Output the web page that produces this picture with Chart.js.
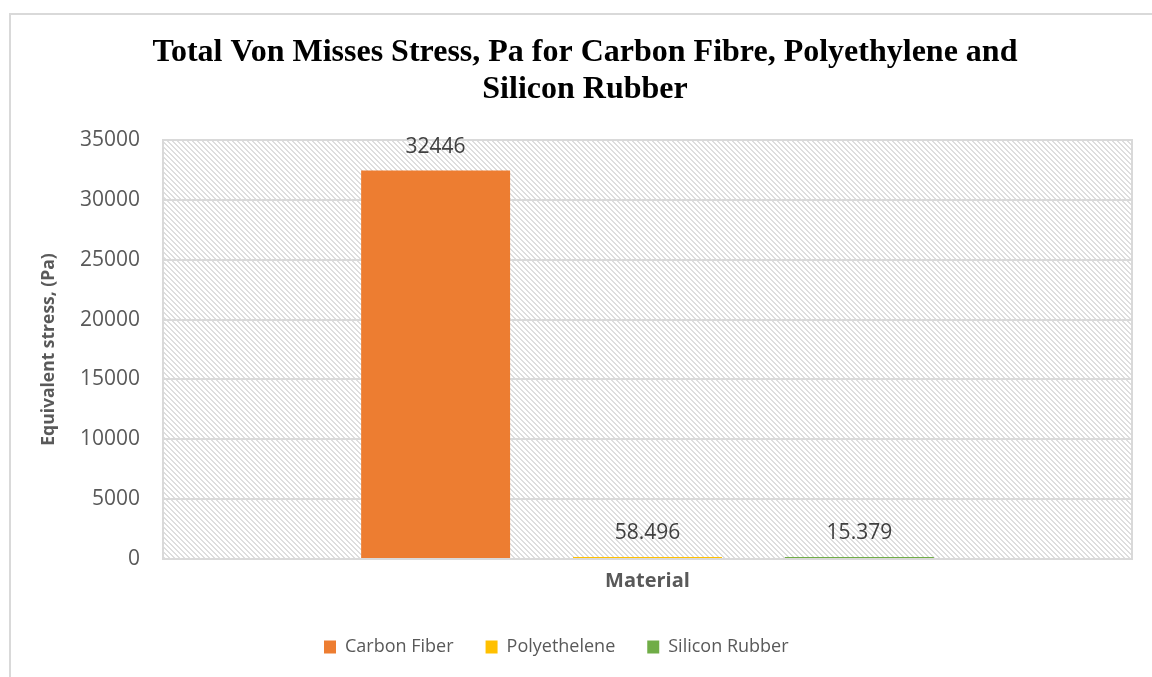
<!DOCTYPE html>
<html>
<head>
<meta charset="utf-8">
<script src="https://cdn.jsdelivr.net/npm/chart.js@4.4.1/dist/chart.umd.min.js"></script>
<style>
  html, body { margin: 0; padding: 0; background: #fff; overflow: hidden; }
  #frame {
    position: absolute; left: 9px; top: 13px;
    width: 1148px; height: 696px;
    border: 2px solid #d9d9d9;
  }
  #frame canvas { display: block; }
</style>
</head>
<body>
<div id="frame"><canvas id="chart" width="1148" height="696"></canvas></div>
<script>
// data
const categories = [''];
const seriesNames = ['Carbon Fiber', 'Polyethelene', 'Silicon Rubber'];
const seriesValues = [32446, 58.496, 15.379];
const seriesColors = ['#ED7D31', '#FFC000', '#70AD47'];
const yMin = 0, yMax = 35000, yStep = 5000;
const titleLines = ['Total Von Misses Stress, Pa for Carbon Fibre, Polyethylene and', 'Silicon Rubber'];
const yTitle = 'Equivalent stress, (Pa)';
const xTitle = 'Material';

const SANS = "'Open Sans', 'Noto Sans', sans-serif";
const GREY = '#d9d9d9';

// diagonal hatch for the plot area
function makeHatch() {
    const n = 5;
    const c = document.createElement('canvas');
    c.width = n; c.height = n;
    const g = c.getContext('2d');
    g.fillStyle = '#ffffff';
    g.fillRect(0, 0, n, n);
    g.fillStyle = '#dedede';
    for (let y = 0; y < n; y++) {
        for (let x = 0; x < n; x++) {
            const d = ((x - y) % n + n) % n;
            if (d === 0 || d === 1) g.fillRect(x, y, 1, 1);
        }
    }
    return g.createPattern(c, 'repeat');
}

const plotBackground = {
    id: 'plotBackground',
    beforeDraw(chart) {
        const {ctx, chartArea: a} = chart;
        ctx.save();
        ctx.fillStyle = '#ffffff';
        ctx.fillRect(0, 0, chart.width, chart.height);
        ctx.fillStyle = makeHatch();
        ctx.fillRect(a.left, a.top, a.right - a.left, a.bottom - a.top);
        ctx.restore();
    },
    afterLayout(chart) {
        // legend sits left of centre in the reference
        const lg = chart.legend;
        if (lg) lg.left = 313 - lg.options.labels.padding;
    }
};

const valueLabels = {
    id: 'valueLabels',
    afterDatasetsDraw(chart) {
        const {ctx} = chart;
        ctx.save();
        ctx.font = "21px " + SANS;
        ctx.fillStyle = '#404040';
        ctx.textAlign = 'center';
        ctx.textBaseline = 'middle';
        chart.data.datasets.forEach((ds, i) => {
            const meta = chart.getDatasetMeta(i);
            meta.data.forEach((bar, j) => {
                ctx.fillText(String(ds.data[j]), bar.x, bar.y - 24);
            });
        });
        ctx.restore();
    }
};

new Chart(document.getElementById('chart'), {
    type: 'bar',
    data: {
        labels: categories,
        datasets: seriesNames.map((name, i) => ({
            label: name,
            data: [seriesValues[i]],
            backgroundColor: seriesColors[i],
            borderWidth: 0,
            minBarLength: 2,
            categoryPercentage: 0.656,
            barPercentage: 0.703,
            yAxisID: 'y'
        }))
    },
    options: {
        responsive: false,
        animation: false,
        layout: { padding: { bottom: 45 } },
        scales: {
            x: {
                grid: { display: false },
                border: { display: false },
                ticks: { display: false },
                title: {
                    display: true, text: xTitle, color: '#595959',
                    font: { family: SANS, size: 20, weight: 'bold' },
                    padding: { top: 0, bottom: 13 }
                },
                afterFit(scale) { scale.height = 47; }
            },
            y: {
                min: yMin, max: yMax,
                ticks: {
                    stepSize: yStep, color: '#595959', padding: 23,
                    font: { family: SANS, size: 21 },
                    callback: (v) => String(v)
                },
                grid: { color: GREY, lineWidth: 2, drawTicks: false },
                border: { display: true, color: GREY, width: 2 },
                title: {
                    display: true, text: yTitle, color: '#595959',
                    font: { family: SANS, size: 17.5, weight: 'bold' },
                    padding: { top: 28, bottom: 0 }
                },
                afterFit(scale) { scale.width = 152; }
            },
            y2: {
                position: 'right',
                min: yMin, max: yMax,
                ticks: { display: false },
                grid: { display: false, drawTicks: false },
                border: { display: true, color: GREY, width: 2 },
                afterFit(scale) { scale.width = 27; }
            }
        },
        plugins: {
            title: {
                display: true,
                text: titleLines,
                color: '#000000',
                font: { family: "'Liberation Serif', 'Times New Roman', serif", size: 32, weight: 'bold', lineHeight: 1.156 },
                padding: { top: 19, bottom: 32 }
            },
            legend: {
                position: 'bottom',
                align: 'start',
                labels: {
                    boxWidth: 12, boxHeight: 13, padding: 32,
                    color: '#595959',
                    font: { family: SANS, size: 18 }
                }
            },
            tooltip: { enabled: false }
        }
    },
    plugins: [plotBackground, valueLabels]
});
</script>
</body>
</html>
